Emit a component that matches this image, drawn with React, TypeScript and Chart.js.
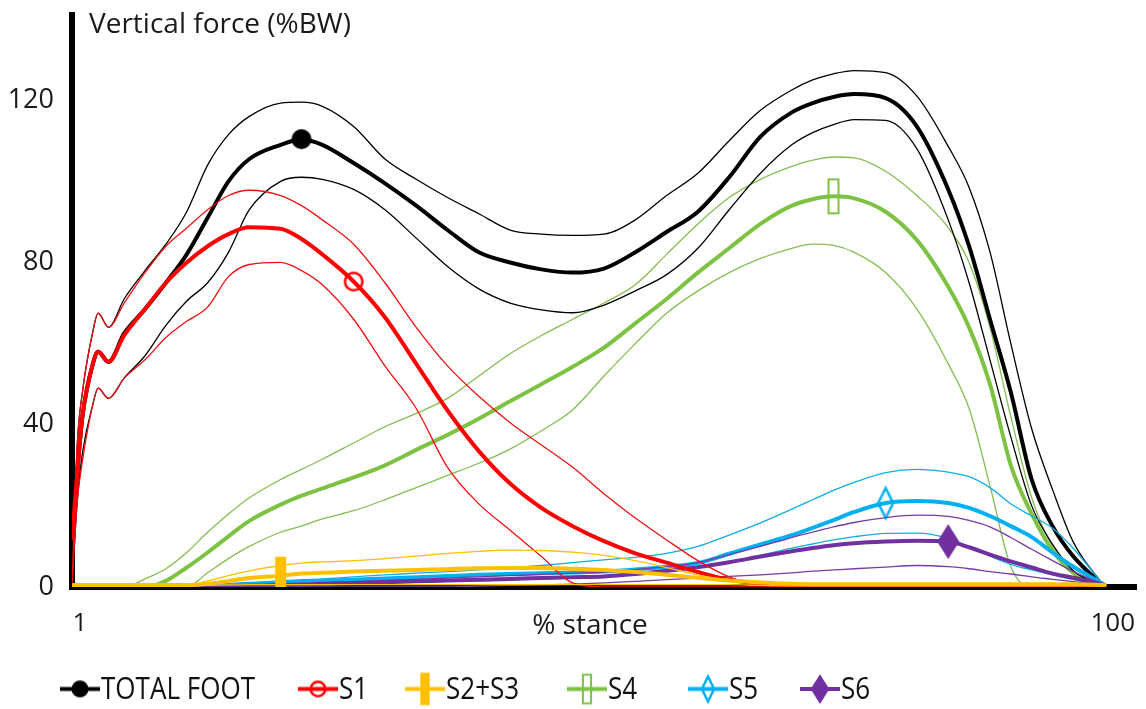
import React, { useEffect, useRef } from "react";
import { Chart, registerables } from "chart.js";

Chart.register(...registerables);

// ---------------- data ----------------
const STANCE = [1, 1.5, 2, 3, 3.5, 4.5, 6, 8, 10, 12, 14, 16, 18, 21, 23, 25, 28, 31, 34, 37, 40, 43, 46, 49, 52, 55, 58, 61, 64, 67, 70, 72, 74, 76, 79, 82, 85, 87, 89, 91, 93, 95, 97, 100];

const TOTAL_MEAN = [12, 28, 42, 55, 58, 55.5, 62.5, 68.5, 75, 82, 91, 100, 105.5, 109, 110.4, 109, 104.5, 99.5, 94, 88, 82.5, 80, 78.3, 77.5, 78.5, 82.5, 87.5, 92.5, 101, 111, 117, 119.3, 120.8, 121.5, 120.5, 113.5, 98, 84, 66, 48, 26.5, 15, 7.5, 0];
const TOTAL_UPPER = [0, 35, 48, 63, 67.5, 64, 71, 78, 84.5, 92.5, 104, 111.5, 116, 119.3, 119.5, 118.5, 113.5, 105.5, 100.5, 96, 92, 88, 87, 86.7, 87, 90.5, 96.5, 102, 110, 117.5, 122.5, 125, 126.5, 127.3, 126.8, 121, 108.6, 98.5, 82.6, 60, 39, 24, 11, 0];
const TOTAL_LOWER = [0, 21, 33, 45, 49, 46.5, 51.5, 57, 64.5, 70.5, 75, 82.5, 93, 100, 101, 100.5, 98, 93, 86, 79, 73.5, 70, 68.3, 67.6, 69.5, 73, 77, 83.5, 93, 102, 109, 112, 114, 115.2, 115, 108, 90.5, 75, 56, 37, 20, 10.5, 4, 0];

const S1_MEAN = [12, 28, 42, 55, 58, 55.5, 62, 68.5, 75, 80, 84, 87, 88.7, 88.3, 85.8, 82, 75.3, 66.5, 55, 43.5, 33.5, 25.5, 19.5, 15, 11.3, 8.3, 6, 3.7, 1.8, 0.8, 0.3, 0, 0, 0, 0, 0, 0, 0, 0, 0, 0, 0, 0, 0];
const S1_UPPER = [0, 35, 48, 63, 67.5, 64, 70, 77.5, 84, 88.5, 93, 96.5, 97.8, 96.5, 94, 90.5, 84.5, 75, 64, 54.5, 47, 40.5, 35, 29.5, 23, 17, 11.6, 6.5, 2.5, 0.5, 0, 0, 0, 0, 0, 0, 0, 0, 0, 0, 0, 0, 0, 0];
const S1_LOWER = [0, 21, 31, 45, 49, 46.5, 51.5, 56, 61.5, 65.5, 69, 76.5, 79.5, 80, 78, 74.5, 66, 54.5, 44, 29.5, 20.5, 14, 7.5, 1, 0, 0, 0, 0, 0, 0, 0, 0, 0, 0, 0, 0, 0, 0, 0, 0, 0, 0, 0, 0];

const S23_MEAN = [0.5, 0.5, 0.5, 0.5, 0.5, 0.5, 0.5, 0.5, 0.5, 0.5, 0.8, 1.5, 2.2, 2.8, 3.3, 3.5, 3.8, 4, 4.2, 4.4, 4.6, 4.7, 4.7, 4.5, 4.2, 3.7, 3, 2.3, 1.6, 1.1, 0.8, 0.7, 0.7, 0.7, 0.7, 0.7, 0.7, 0.7, 0.7, 0.7, 0.7, 0.7, 0.7, 0.5];
const S23_UPPER = [0.5, 0.5, 0.5, 0.5, 0.5, 0.5, 0.5, 0.5, 0.5, 0.5, 1.5, 2.8, 4, 5.3, 5.9, 6.2, 6.5, 7, 7.6, 8.3, 8.8, 9.1, 9, 8.6, 7.8, 6.5, 4.8, 3, 1.6, 1, 0.7, 0.6, 0.6, 0.6, 0.6, 0.6, 0.6, 0.6, 0.6, 0.6, 0.6, 0.6, 0.6, 0.5];
const S23_LOWER = [0.3, 0.3, 0.3, 0.3, 0.3, 0.3, 0.3, 0.3, 0.3, 0.3, 0.4, 0.5, 0.6, 0.6, 0.6, 0.6, 0.6, 0.6, 0.6, 0.6, 0.6, 0.6, 0.6, 0.6, 0.6, 0.6, 0.6, 0.6, 0.6, 0.4, 0.3, 0.3, 0.3, 0.3, 0.3, 0.3, 0.3, 0.3, 0.3, 0.3, 0.3, 0.3, 0.3, 0.3];

const S4_MEAN = [0, 0, 0, 0, 0, 0, 0, 0, 1.5, 4.8, 8.5, 12.5, 16.3, 20.3, 22.5, 24.3, 27, 30, 33.8, 37.5, 41.5, 45.8, 50, 54.3, 59, 65, 71, 77.5, 83.5, 89.5, 94, 95.6, 96.3, 95.8, 92.5, 85.5, 74, 64, 50, 30, 18, 9, 3.5, 0];
const S4_UPPER = [0, 0, 0, 0, 0, 0, 0, 2, 4.5, 8.5, 13.5, 18, 22, 26.5, 29, 31.5, 35.5, 39.5, 42.8, 46.5, 52, 57.5, 62, 66, 70, 74.5, 82, 89.5, 96, 100.5, 103.7, 105.2, 106, 105.8, 102.5, 96.5, 88.6, 80, 64, 42, 22, 10, 3.5, 0];
const S4_LOWER = [0, 0, 0, 0, 0, 0, 0, 0, 0, 0, 3.5, 7, 10, 13.5, 15, 16.8, 18.8, 21.5, 24.5, 27.5, 30.5, 34, 38.5, 43.7, 52, 60, 67.5, 73, 77.5, 81, 83.5, 84.5, 84.2, 82.5, 77.5, 68.5, 55, 44, 25, 5, 0, 0, 0, 0];

const S5_MEAN = [0, 0, 0, 0, 0, 0, 0, 0, 0, 0, 0, 0.5, 0.8, 1.1, 1.3, 1.5, 1.8, 2.1, 2.4, 2.7, 3, 3.2, 3.4, 3.6, 3.8, 4.3, 5, 5.9, 8.2, 10.5, 12.8, 14.6, 16.5, 18.5, 20.7, 21.2, 20.7, 19.5, 17.5, 15, 12.3, 8.5, 5, 0.5];
const S5_UPPER = [0, 0, 0, 0, 0, 0, 0, 0, 0, 0, 0.5, 0.8, 1, 1.5, 1.8, 2, 2.5, 3, 3.4, 3.8, 4.2, 4.7, 5.3, 6, 6.7, 7.3, 8.3, 10, 12.8, 15.8, 19.2, 21.5, 23.8, 25.8, 28.2, 29, 28.3, 27.2, 24.5, 20.5, 17.5, 14.5, 9.5, 0];
const S5_LOWER = [0, 0, 0, 0, 0, 0, 0, 0, 0, 0, 0, 0, 0, 0, 0.2, 0.5, 0.8, 1, 1.2, 1.4, 1.5, 1.7, 2, 2.3, 2.7, 3.2, 3.8, 4.8, 6, 7.8, 9.6, 10.6, 11.6, 12.4, 13.2, 13.3, 12, 9.8, 7.6, 5.6, 4.2, 3, 1.8, 0];

const S6_MEAN = [0, 0, 0, 0, 0, 0, 0, 0, 0, 0, 0, 0, 0.3, 0.5, 0.6, 0.8, 1, 1.2, 1.4, 1.6, 1.8, 2, 2.2, 2.4, 2.6, 3.2, 4, 4.9, 6.1, 7.5, 8.8, 9.6, 10.3, 10.8, 11.2, 11.4, 11.2, 9.8, 8, 6.3, 4.8, 3.3, 2.3, 0.5];
const S6_UPPER = [0, 0, 0, 0, 0, 0, 0, 0, 0, 0, 0, 0, 0.4, 0.7, 0.85, 1, 1.3, 1.6, 1.9, 2.2, 2.5, 2.8, 3.1, 3.4, 3.7, 4.3, 5, 6, 8, 10, 12.2, 13.5, 14.8, 15.9, 17.1, 17.7, 17.4, 16.4, 14.8, 12.2, 9.3, 6.5, 3.8, 0.5];
const S6_LOWER = [0, 0, 0, 0, 0, 0, 0, 0, 0, 0, 0, 0, 0, 0, 0, 0, 0, 0, 0, 0, 0.2, 0.4, 0.5, 0.7, 1, 1.4, 1.8, 2.2, 2.6, 3, 3.5, 3.9, 4.2, 4.5, 4.9, 5.3, 5, 4.5, 3.8, 3.2, 2.5, 1.9, 1.3, 0.3];

// % stance at which each mean curve carries its marker
const MARK_TOTAL = 23;
const MARK_S1 = 28;
const MARK_S23 = 21;
const MARK_S4 = 74;
const MARK_S5 = 79;
const MARK_S6 = 85;

const Y_TICKS = [0, 40, 80, 120];
const X_TICKS = [1, 100];
const Y_TITLE = "Vertical force (%BW)";
const X_TITLE = "% stance";

// ---------------- styling ----------------
type Kind = "dot" | "ring" | "bar" | "box" | "diamond" | "gem";

const SERIES = [
  { label: "TOTAL FOOT", color: "#000000", thin: "#000000", mean: TOTAL_MEAN, upper: TOTAL_UPPER, lower: TOTAL_LOWER, mark: MARK_TOTAL, kind: "dot" as Kind, order: 5 },
  { label: "S1", color: "#ff0000", thin: "#ee1111", mean: S1_MEAN, upper: S1_UPPER, lower: S1_LOWER, mark: MARK_S1, kind: "ring" as Kind, order: 2 },
  { label: "S2+S3", color: "#ffc000", thin: "#ffc000", mean: S23_MEAN, upper: S23_UPPER, lower: S23_LOWER, mark: MARK_S23, kind: "bar" as Kind, order: 1 },
  { label: "S4", color: "#7dc242", thin: "#86bd52", mean: S4_MEAN, upper: S4_UPPER, lower: S4_LOWER, mark: MARK_S4, kind: "box" as Kind, order: 6 },
  { label: "S5", color: "#00b0f0", thin: "#10aee8", mean: S5_MEAN, upper: S5_UPPER, lower: S5_LOWER, mark: MARK_S5, kind: "diamond" as Kind, order: 4 },
  { label: "S6", color: "#7030a0", thin: "#7a3aa6", mean: S6_MEAN, upper: S6_UPPER, lower: S6_LOWER, mark: MARK_S6, kind: "gem" as Kind, order: 3 },
];

const LEGEND_SLOTS = [60, 298, 405, 567, 688, 800];
const SIZES: Record<Kind, [number, number]> = {
  dot: [20, 20],
  ring: [20, 20],
  bar: [11, 38],
  box: [12, 36],
  diamond: [18, 33],
  gem: [22, 35],
};

function makeSymbol(kind: Kind, color: string, scale: number, lineLen: number): HTMLCanvasElement {
  const w = SIZES[kind][0] * scale;
  const h = SIZES[kind][1] * scale;
  const W = Math.ceil(Math.max(w, lineLen) + 4);
  const H = Math.ceil(h + 4);
  const c = document.createElement("canvas");
  c.width = W;
  c.height = H;
  const g = c.getContext("2d") as CanvasRenderingContext2D;
  const cx = W / 2;
  const cy = H / 2;
  g.strokeStyle = color;
  g.fillStyle = color;
  if (lineLen > 0) {
    g.lineWidth = 4;
    g.beginPath();
    g.moveTo(cx - lineLen / 2, cy);
    g.lineTo(cx + lineLen / 2, cy);
    g.stroke();
  }
  const diamond = (inset: number) => {
    g.beginPath();
    g.moveTo(cx, cy - h / 2 + inset);
    g.lineTo(cx + w / 2 - inset, cy);
    g.lineTo(cx, cy + h / 2 - inset);
    g.lineTo(cx - w / 2 + inset, cy);
    g.closePath();
  };
  switch (kind) {
    case "dot":
      g.beginPath();
      g.arc(cx, cy, w / 2, 0, Math.PI * 2);
      g.fill();
      break;
    case "ring":
      g.lineWidth = 2.5;
      g.beginPath();
      g.arc(cx, cy, w / 2 - 1.25, 0, Math.PI * 2);
      g.stroke();
      break;
    case "bar":
      g.fillRect(cx - w / 2, cy - h / 2, w, h);
      break;
    case "box":
      g.lineWidth = 2;
      g.strokeRect(cx - w / 2 + 1, cy - h / 2 + 1, w - 2, h - 2);
      break;
    case "diamond":
      g.lineWidth = 2.5;
      diamond(1.5);
      g.stroke();
      break;
    case "gem":
      diamond(0);
      g.fill();
      break;
  }
  return c;
}

const FONT = '"Open Sans", "DejaVu Sans", sans-serif';
const LEGEND_FONT = '31px "Open Sans", "DejaVu Sans", sans-serif';
const LEGEND_SQUEEZE = 0.84;

export default function App() {
  const ref = useRef<HTMLCanvasElement | null>(null);

  useEffect(() => {
    if (!ref.current) return;
    const legendSymbols = SERIES.map((s) => makeSymbol(s.kind, s.color, 0.85, 40));

    const datasets: any[] = [];
    SERIES.forEach((s) => {
      const img = makeSymbol(s.kind, s.color, 1, 0);
      const toPts = (arr: number[]) => STANCE.map((x, i) => ({ x, y: arr[i] }));
      datasets.push({
        label: s.label,
        data: toPts(s.mean),
        borderColor: s.color,
        backgroundColor: s.color,
        borderWidth: 4,
        order: s.order,
        pointStyle: img,
        pointRadius: (ctx: any) => (STANCE[ctx.dataIndex] === s.mark ? 10 : 0),
        pointHoverRadius: (ctx: any) => (STANCE[ctx.dataIndex] === s.mark ? 10 : 0),
      });
      [s.upper, s.lower].forEach((arr, k) => {
        datasets.push({
          label: s.label + (k === 0 ? " +SD" : " -SD"),
          data: toPts(arr),
          borderColor: s.thin,
          backgroundColor: s.thin,
          borderWidth: 1.3,
          order: s.order,
          pointRadius: 0,
          pointHoverRadius: 0,
        });
      });
    });

    const overlay = {
      id: "overlay",
      afterDraw(chart: any) {
        const ctx = chart.ctx as CanvasRenderingContext2D;
        const area = chart.chartArea;
        ctx.save();
        ctx.fillStyle = "#1a1a1a";
        ctx.textBaseline = "middle";
        ctx.textAlign = "left";
        ctx.font = "28px " + FONT;
        ctx.fillText(Y_TITLE, area.left + 17, 25);
        ctx.textAlign = "center";
        ctx.fillText(X_TITLE, 590, 626);
        // legend
        ctx.font = LEGEND_FONT;
        ctx.textAlign = "left";
        SERIES.forEach((s, i) => {
          const sym = legendSymbols[i];
          const x0 = LEGEND_SLOTS[i];
          const cy = 689;
          ctx.drawImage(sym, x0 + 20 - sym.width / 2, cy - sym.height / 2);
          ctx.save();
          ctx.translate(x0 + 41, cy + 1);
          ctx.scale(LEGEND_SQUEEZE, 1);
          ctx.fillStyle = "#111111";
          ctx.fillText(s.label, 0, 0);
          ctx.restore();
        });
        ctx.restore();
      },
    };

    const chart = new Chart(ref.current, {
      type: "line",
      data: { datasets },
      options: {
        animation: false,
        responsive: true,
        maintainAspectRatio: false,
        events: [],
        layout: { padding: { left: 0, top: 15, right: 10, bottom: 72 } },
        elements: {
          line: { cubicInterpolationMode: "monotone", fill: false, borderCapStyle: "round", borderJoinStyle: "round" },
        },
        plugins: {
          legend: { display: false },
          tooltip: { enabled: false },
          title: { display: false },
        },
        scales: {
          x: {
            type: "linear",
            min: 1,
            max: 103,
            afterBuildTicks: (sc: any) => {
              sc.ticks = X_TICKS.map((v) => ({ value: v }));
            },
            afterFit: (sc: any) => {
              sc.height = 50;
              sc.paddingLeft = 0;
              sc.paddingRight = 0;
              sc.paddingTop = 0;
              sc.paddingBottom = 0;
            },
            grid: { display: false, drawTicks: false },
            border: { display: true, color: "#000000", width: 6 },
            ticks: {
              font: { family: FONT, size: 26 },
              color: "#1a1a1a",
              padding: 21,
              labelOffset: 8,
              maxRotation: 0,
              autoSkip: false,
            },
          },
          y: {
            type: "linear",
            min: 0,
            max: 141,
            afterBuildTicks: (sc: any) => {
              sc.ticks = Y_TICKS.map((v) => ({ value: v }));
            },
            afterFit: (sc: any) => {
              sc.width = 72;
              sc.paddingLeft = 0;
              sc.paddingRight = 0;
              sc.paddingTop = 0;
              sc.paddingBottom = 0;
            },
            grid: { display: false, drawTicks: false },
            border: { display: true, color: "#000000", width: 6 },
            ticks: {
              font: { family: FONT, size: 27 },
              color: "#1a1a1a",
              padding: 18,
            },
          },
        },
      },
      plugins: [overlay],
    } as any);

    return () => chart.destroy();
  }, []);

  return (
    <div style={{ position: "fixed", left: 0, top: 0, width: 1146, height: 709, background: "#ffffff" }}>
      <canvas ref={ref} />
    </div>
  );
}
